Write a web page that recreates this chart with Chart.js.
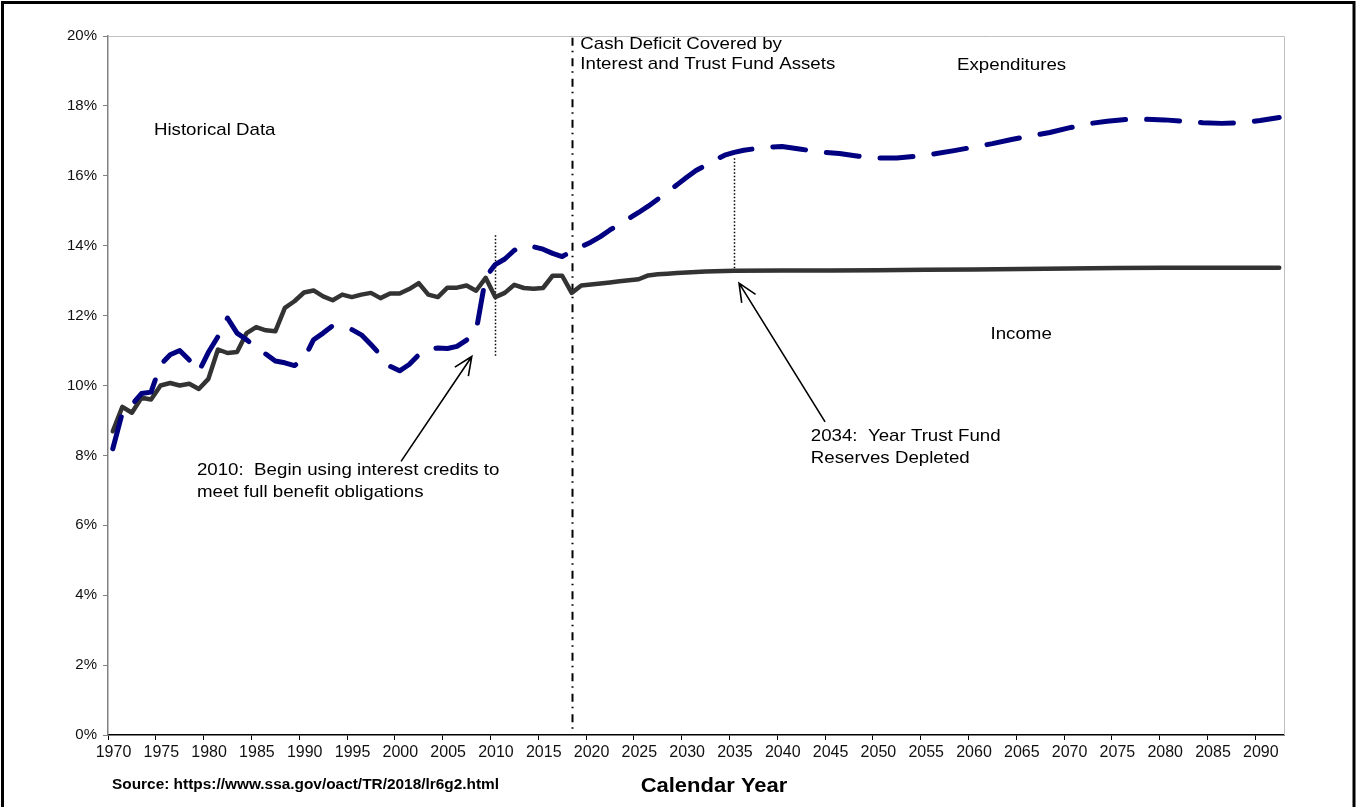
<!DOCTYPE html>
<html>
<head>
<meta charset="utf-8">
<script src="https://cdn.jsdelivr.net/npm/chart.js@4.4.1/dist/chart.umd.min.js"></script>
<style>
html, body { margin: 0; padding: 0; background: #fff; }
#wrap { width: 1356px; height: 807px; position: relative; }
</style>
</head>
<body>
<div id="wrap"><canvas id="chart"></canvas></div>
<script>
// Income rate, % of taxable payroll (solid line)
var incomeYears = [1970, 1971, 1972, 1973, 1974, 1975, 1976, 1977, 1978, 1979,
    1980, 1981, 1982, 1983, 1984, 1985, 1986, 1987, 1988, 1989,
    1990, 1991, 1992, 1993, 1994, 1995, 1996, 1997, 1998, 1999,
    2000, 2001, 2002, 2003, 2004, 2005, 2006, 2007, 2008, 2009,
    2010, 2011, 2012, 2013, 2014, 2015, 2016, 2017, 2018, 2019,
    2020, 2021, 2022, 2023, 2024, 2025, 2026, 2027, 2028, 2029,
    2030, 2032, 2035, 2040, 2045, 2050, 2055, 2060, 2065, 2070,
    2075, 2080, 2085, 2090, 2092];
var incomeValues = [8.69, 9.39, 9.22, 9.65, 9.60, 10.00, 10.07, 10.00, 10.05, 9.90,
    10.19, 11.03, 10.93, 10.96, 11.50, 11.67, 11.58, 11.55, 12.22, 12.41,
    12.66, 12.72, 12.55, 12.44, 12.60, 12.53, 12.60, 12.65, 12.50, 12.63,
    12.63, 12.76, 12.93, 12.60, 12.53, 12.80, 12.80, 12.86, 12.71, 13.08,
    12.53, 12.65, 12.88, 12.79, 12.77, 12.79, 13.14, 13.14, 12.65, 12.86,
    12.89, 12.92, 12.95, 12.98, 13.01, 13.04, 13.15, 13.18, 13.20, 13.22,
    13.23, 13.26, 13.28, 13.29, 13.29, 13.30, 13.31, 13.32, 13.33, 13.35,
    13.36, 13.37, 13.37, 13.37, 13.37];

// Cost rate, % of taxable payroll (dashed line)
var costYears = [1970, 1971, 1972, 1973, 1974, 1975, 1976, 1977, 1978, 1979,
    1980, 1981, 1982, 1983, 1984, 1985, 1986, 1987, 1988, 1989,
    1990, 1991, 1992, 1993, 1994, 1995, 1996, 1997, 1998, 1999,
    2000, 2001, 2002, 2003, 2004, 2005, 2006, 2007, 2008, 2009,
    2010, 2011, 2012, 2013, 2014, 2015, 2016, 2017, 2018, 2019,
    2020, 2021, 2022, 2023, 2024, 2025, 2026, 2027, 2028, 2029,
    2030, 2031, 2032, 2033, 2034, 2035, 2036, 2037, 2038, 2040,
    2042, 2044, 2046, 2048, 2050, 2052, 2054, 2056, 2058, 2060,
    2062, 2064, 2066, 2068, 2070, 2072, 2074, 2076, 2078, 2080,
    2082, 2084, 2086, 2088, 2090, 2092];
var costValues = [8.19, 9.22, 9.45, 9.77, 9.81, 10.60, 10.88, 11.00, 10.73, 10.40,
    10.95, 11.40, 11.93, 11.50, 11.31, 11.08, 10.90, 10.70, 10.65, 10.57,
    10.76, 11.31, 11.50, 11.71, 11.66, 11.60, 11.45, 11.17, 10.88, 10.55,
    10.42, 10.60, 10.88, 11.05, 11.07, 11.06, 11.12, 11.30, 11.55, 13.10,
    13.46, 13.62, 13.87, 14.00, 13.97, 13.90, 13.78, 13.69, 13.84, 13.97,
    14.10, 14.26, 14.45, 14.62, 14.78, 14.95, 15.13, 15.33, 15.54, 15.74,
    15.95, 16.15, 16.30, 16.45, 16.59, 16.67, 16.73, 16.77, 16.81, 16.84,
    16.76, 16.68, 16.64, 16.56, 16.51, 16.51, 16.56, 16.63, 16.72, 16.82,
    16.92, 17.04, 17.14, 17.24, 17.37, 17.49, 17.56, 17.61, 17.62, 17.60,
    17.56, 17.52, 17.50, 17.52, 17.58, 17.67];

var tickYears = [1970, 1975, 1980, 1985, 1990, 1995, 2000, 2005, 2010, 2015, 2020, 2025,
    2030, 2035, 2040, 2045, 2050, 2055, 2060, 2065, 2070, 2075, 2080, 2085, 2090];

// vertical marker lines: [year, top %, bottom %, style]
var markerLines = [
    [2010, 14.3, 10.8, 'dot'],
    [2018, 19.95, 0.1, 'dashdot'],
    [2035, 16.5, 13.3, 'dot']
];

// arrows: [from year, from %, to year, to %]
var arrows = [
    [2000.15, 7.83, 2007.55, 10.83],
    [2044.5, 8.96, 2035.5, 12.93]
];

// in-plot labels: [text, year (left edge), % (middle)]
var notes = [
    ['Historical Data', 1974.3, 17.29],
    ['Cash Deficit Covered by', 2018.9, 19.77],
    ['Interest and Trust Fund Assets', 2018.9, 19.2],
    ['Expenditures', 2058.3, 19.15],
    ['Income', 2061.8, 11.46],
    ['2034:  Year Trust Fund', 2043.0, 8.54],
    ['Reserves Depleted', 2043.0, 7.91],
    ['2010:  Begin using interest credits to', 1978.8, 7.57],
    ['meet full benefit obligations', 1978.8, 6.94]
];

var FONT = '"Liberation Sans", Arial, sans-serif';
Chart.defaults.font.family = FONT;
Chart.defaults.color = '#000';

function toPoints(xs, ys) {
    return xs.map(function(x, i) { return { x: x, y: ys[i] }; });
}

// text in the source image is a little wider than plain Arial
function wideText(ctx, text, x, y, sx) {
    ctx.save();
    ctx.translate(x, y);
    ctx.scale(sx, 1);
    ctx.fillText(text, 0, 0);
    ctx.restore();
}

var annotate = {
    id: 'annotate',
    beforeDraw: function(chart) {
        var ctx = chart.ctx;
        ctx.save();
        ctx.fillStyle = '#fff';
        ctx.fillRect(0, 0, chart.width, chart.height);
        ctx.strokeStyle = '#000';
        ctx.lineWidth = 3;
        ctx.strokeRect(2.5, 2.5, chart.width - 4.5, chart.height + 20);
        ctx.restore();
    },
    beforeDatasetsDraw: function(chart) {
        var ctx = chart.ctx, xs = chart.scales.x, ys = chart.scales.y, a = chart.chartArea;
        ctx.save();
        // plot border top and right
        ctx.strokeStyle = '#c0c0c0';
        ctx.lineWidth = 1;
        ctx.beginPath();
        ctx.moveTo(a.left, a.top + 0.5);
        ctx.lineTo(a.right + 0.5, a.top + 0.5);
        ctx.lineTo(a.right + 0.5, a.bottom);
        ctx.stroke();
        markerLines.forEach(function(m) {
            var x = Math.round(xs.getPixelForValue(m[0])) + 0.5;
            ctx.strokeStyle = '#000';
            if (m[3] === 'dot') {
                ctx.lineWidth = 1.5;
                ctx.setLineDash([1.5, 2]);
            } else {
                ctx.lineWidth = 2;
                ctx.setLineDash([8, 5, 1.5, 6]);
            }
            ctx.beginPath();
            ctx.moveTo(x, ys.getPixelForValue(m[1]));
            ctx.lineTo(x, ys.getPixelForValue(m[2]));
            ctx.stroke();
        });
        ctx.restore();
    },
    afterDatasetsDraw: function(chart) {
        var ctx = chart.ctx, xs = chart.scales.x, ys = chart.scales.y;
        ctx.save();
        ctx.strokeStyle = '#000';
        ctx.lineWidth = 1.6;
        arrows.forEach(function(r) {
            var x0 = xs.getPixelForValue(r[0]), y0 = ys.getPixelForValue(r[1]);
            var x1 = xs.getPixelForValue(r[2]), y1 = ys.getPixelForValue(r[3]);
            var ang = Math.atan2(y1 - y0, x1 - x0), len = 20, spread = 0.42;
            ctx.beginPath();
            ctx.moveTo(x0, y0);
            ctx.lineTo(x1, y1);
            ctx.moveTo(x1 - len * Math.cos(ang - spread), y1 - len * Math.sin(ang - spread));
            ctx.lineTo(x1, y1);
            ctx.lineTo(x1 - len * Math.cos(ang + spread), y1 - len * Math.sin(ang + spread));
            ctx.stroke();
        });
        ctx.fillStyle = '#000';
        ctx.font = '17px ' + FONT;
        ctx.textAlign = 'left';
        ctx.textBaseline = 'middle';
        notes.forEach(function(n) {
            wideText(ctx, n[0], xs.getPixelForValue(n[1]), ys.getPixelForValue(n[2]), 1.1);
        });
        // footer texts
        ctx.font = 'bold 14px ' + FONT;
        wideText(ctx, 'Source: https://www.ssa.gov/oact/TR/2018/lr6g2.html', 112, 785, 1.1);
        ctx.font = 'bold 20px ' + FONT;
        ctx.textAlign = 'center';
        wideText(ctx, 'Calendar Year', 714, 786, 1.1);
        ctx.restore();
    }
};

var ctx = document.getElementById('chart').getContext('2d');
var chart = new Chart(ctx, {
    type: 'line',
    data: {
        datasets: [{
            label: 'Expenditures',
            data: toPoints(costYears, costValues),
            borderColor: '#000080',
            borderWidth: 5,
            borderDash: [33, 21],
            borderCapStyle: 'round',
            borderJoinStyle: 'round',
            pointRadius: 0,
            tension: 0,
            fill: false
        }, {
            label: 'Income',
            data: toPoints(incomeYears, incomeValues),
            borderColor: '#333333',
            borderWidth: 4.5,
            borderCapStyle: 'round',
            borderJoinStyle: 'round',
            pointRadius: 0,
            tension: 0,
            fill: false
        }]
    },
    options: {
        responsive: true,
        maintainAspectRatio: false,
        animation: false,
        devicePixelRatio: 1,
        layout: { padding: { left: 0, top: 36, right: 72, bottom: 0 } },
        plugins: {
            legend: { display: false },
            tooltip: { enabled: false },
            title: { display: false }
        },
        scales: {
            x: {
                type: 'linear',
                min: 1969.5,
                max: 2092.5,
                afterFit: function(scale) { scale.height = 72; },
                afterBuildTicks: function(scale) {
                    scale.ticks = tickYears.map(function(y) { return { value: y - 0.5 }; });
                },
                ticks: {
                    autoSkip: false,
                    maxRotation: 0,
                    padding: 3,
                    labelOffset: 5.5,
                    font: { size: 16 },
                    color: '#111',
                    callback: function(v) { return String(Math.round(v + 0.5)); }
                },
                grid: { drawOnChartArea: false, drawTicks: true, tickLength: 5, color: '#000', lineWidth: 1 },
                border: { display: true, color: '#000', width: 1.5 }
            },
            y: {
                min: 0,
                max: 20,
                afterFit: function(scale) { scale.width = 108; },
                ticks: {
                    stepSize: 2,
                    padding: 6,
                    font: { size: 15 },
                    color: '#111',
                    callback: function(v) { return v + '%'; }
                },
                grid: { drawOnChartArea: false, drawTicks: true, tickLength: 5, color: '#808080', lineWidth: 1 },
                border: { display: true, color: '#808080', width: 1.5 }
            }
        }
    },
    plugins: [annotate]
});
</script>
</body>
</html>
